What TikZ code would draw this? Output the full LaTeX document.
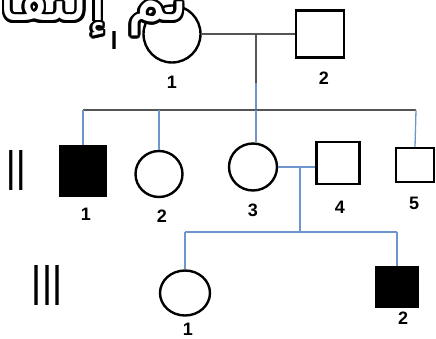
\documentclass[tikz,border=0pt]{standalone}
\usepackage{fontspec}
\setmainfont{Liberation Sans}
\newfontfamily\arabicfont[Script=Arabic]{DejaVu Sans}
\TeXXeTstate=1
\usetikzlibrary{shapes.geometric}
\definecolor{pgray}{RGB}{85,85,85}
\definecolor{pblue}{RGB}{110,150,205}
\begin{document}
\begin{tikzpicture}[x=1pt,y=-1pt,
  person/.style={draw=black, line width=2.4pt, inner sep=0pt, fill=white},
  female/.style={person, ellipse},
  male/.style={person, rectangle},
  affected/.style={fill=black},
  num/.style={font=\fontsize{18}{18}\bfseries\selectfont, inner sep=0pt},
  gline/.style={draw=pgray, line width=1.3pt},
  bline/.style={draw=pblue, line width=1.3pt},
  gen/.style={inner sep=0pt},
  wm/.style={font=\arabicfont\fontsize{64}{64}\selectfont, inner sep=0pt, anchor=base east}]
\useasboundingbox (0,0) rectangle (436,339);
% generation I
\node[female, minimum width=57, minimum height=57] (I1) at (172,34) {};
\node[male, minimum width=48, minimum height=47] (I2) at (320,34) {};
\node[num] (n11) at (172,82) {1};
\node[num] (n12) at (324,78) {2};
% generation II
\node[male, affected, minimum width=45, minimum height=50] (II1) at (83,171) {};
\node[female, minimum width=47, minimum height=46] (II2) at (159,174) {};
\node[female, minimum width=48, minimum height=47] (II3) at (253,167) {};
\node[male, minimum width=43, minimum height=42] (II4) at (338,163) {};
\node[male, minimum width=38, minimum height=34] (II5) at (415,165) {};
\node[num] (n21) at (86,214) {1};
\node[num] (n22) at (162,216) {2};
\node[num] (n23) at (253,210) {3};
\node[num] (n24) at (340,207) {4};
\node[num] (n25) at (414,203) {5};
% generation III
\node[female, minimum width=50, minimum height=45] (III1) at (185,293) {};
\node[male, affected, minimum width=41, minimum height=39] (III2) at (397,287) {};
\node[num] (n31) at (188,329) {1};
\node[num] (n32) at (403,318) {2};
% generation labels
\node[gen] (g1) at (114,41) {\resizebox{10pt}{18pt}{I}};
\node[gen] (g2) at (16,170) {\resizebox{19pt}{40pt}{II}};
\node[gen] (g3) at (47,285) {\resizebox{30pt}{40pt}{III}};
% connectors
\coordinate (d1) at (256,34);
\coordinate (d1b) at (256,83);
\coordinate (s1) at (256,110);
\coordinate (sL) at (83,110);
\coordinate (sR) at (416,110);
\draw[gline] (I1.east) -- (I2.west);
\draw[gline] (d1) -- (d1b);
\draw[bline] (d1b) -- (s1);
\draw[gline] (sL) -- (sR);
\draw[bline] (sL) -- (II1.north);
\draw[bline] (II2.north |- sL) -- (II2.north);
\draw[bline] (s1) -- (s1 |- II3.north);
\draw[bline] (sR) -- (II5.north);
\draw[bline] (II3.east) -- (II3.east -| II4.west);
\coordinate (d2) at (300,167);
\coordinate (s2) at (300,232);
\draw[bline] (d2) -- (s2);
\draw[bline] (III1.north |- s2) -- (III2.north |- s2);
\draw[bline] (III1.north |- s2) -- (III1.north);
\draw[bline] (III2.north |- s2) -- (III2.north);
% watermark
\begin{scope}
\clip (0,0) rectangle (436,339);
\foreach \a in {0,24,...,336}
  \node[wm, text=black, shift={(\a:2.6pt)}] (wmo\a) at (188,21) {\beginR تم إلتقاط\endR};
\node[wm, text=white] (wmt) at (188,21) {\beginR تم إلتقاط\endR};
\end{scope}
\end{tikzpicture}
\end{document}
